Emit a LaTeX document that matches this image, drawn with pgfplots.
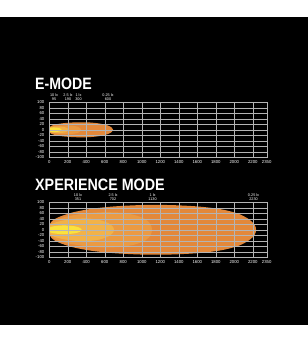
\documentclass[border=0pt]{standalone}
\usepackage{pgfplots}
\pgfplotsset{compat=1.18}
\usepackage{fontspec}
\setmainfont{Liberation Sans}
\definecolor{beamA}{HTML}{E3883A}
\definecolor{beamB}{HTML}{EB9A42}
\definecolor{beamC}{HTML}{F2B248}
\definecolor{beamD}{HTML}{FBE23C}
\definecolor{gridc}{HTML}{B4B4B4}
\tikzset{toplab/.style={white, font=\fontsize{3.8}{4.0}\selectfont, align=center, anchor=south, inner sep=0pt, yshift=1.5bp}}
\pgfplotsset{
  beamaxis/.style={
    scale only axis, width=217.4bp, height=55bp, anchor=south west,
    xmin=0, xmax=2350, ymin=-100, ymax=100,
    xtick={0,200,400,600,800,1000,1200,1400,1600,1800,2000,2200,2350},
    xticklabels={0,200,400,600,800,1000,1200,1400,1600,1800,2000,2200,2350},
    ytick={-100,-80,-60,-40,-20,0,20,40,60,80,100},
    yticklabels={-100,-80,-60,-40,-20,0,20,40,60,80,100},
    grid=major, major grid style={gridc, line width=0.3pt},
    axis line style={gridc, line width=0.35pt},
    major tick length=0pt,
    tick label style={white, font=\fontsize{4.3}{4.3}\selectfont},
    xticklabel style={yshift=0.5bp},
    yticklabel style={xshift=-1.5bp},
    axis on top, clip=false,
  },
}
\begin{document}
\begin{tikzpicture}
\fill[white] (0bp,0bp) rectangle (308bp,343bp);
\fill[black] (0bp,18bp) rectangle (308bp,326bp);
\node[white, anchor=base west, inner sep=0pt, xscale=0.86, font=\fontsize{16.5}{16.5}\selectfont\bfseries] at (35bp,253bp) {E-MODE};
\node[white, anchor=base west, inner sep=0pt, xscale=0.87, font=\fontsize{16.5}{16.5}\selectfont\bfseries] at (35bp,152bp) {XPERIENCE MODE};

\begin{axis}[beamaxis, at={(49.3bp,185.7bp)}]
\addplot[draw=none, fill=beamA, smooth] coordinates {(0,0) (3,8) (15,13) (60,19) (150,24) (280,27) (420,27) (540,23) (630,16) (675,8) (690,0) (675,-8) (630,-16) (540,-23) (420,-27) (280,-27) (150,-24) (60,-19) (15,-13) (3,-8) (0,0)} -- cycle;
\addplot[draw=none, fill=beamB, smooth] coordinates {(0,0) (3,7) (15,10) (50,13) (120,15) (200,16) (270,14) (315,10) (335,5) (342,0) (335,-5) (315,-10) (270,-14) (200,-16) (120,-15) (50,-13) (15,-10) (3,-7) (0,0)} -- cycle;
\addplot[draw=none, fill=beamC, smooth] coordinates {(0,0) (3,6) (15,9) (50,11) (110,12) (160,10) (195,6) (208,0) (195,-6) (160,-10) (110,-12) (50,-11) (15,-9) (3,-6) (0,0)} -- cycle;
\addplot[draw=none, fill=beamD, smooth] coordinates {(0,0) (3,5) (15,7.5) (45,8.5) (80,8) (110,6) (128,3) (132,0) (128,-3) (110,-6) (80,-8) (45,-8.5) (15,-7.5) (3,-5) (0,0)} -- cycle;
\node[toplab] at (axis cs:51,100) {10 lx\\95};
\node[toplab] at (axis cs:202,100) {2.5 lx\\190};
\node[toplab] at (axis cs:316,100) {1 lx\\300};
\node[toplab] at (axis cs:635,100) {0.25 lx\\600};
\end{axis}

\begin{axis}[beamaxis, at={(49.3bp,85.7bp)}]
\addplot[draw=none, fill=beamA, smooth] coordinates {(0,0) (5,18) (30,32) (100,46) (250,63) (450,76) (700,85) (1000,90) (1300,90) (1600,85) (1850,75) (2040,59) (2160,38) (2220,18) (2235,0) (2220,-18) (2160,-38) (2040,-59) (1850,-75) (1600,-85) (1300,-90) (1000,-90) (700,-85) (450,-76) (250,-63) (100,-46) (30,-32) (5,-18) (0,0)} -- cycle;
\addplot[draw=none, fill=beamB, smooth] coordinates {(0,0) (4,14) (20,25) (80,37) (200,49) (380,59) (580,64) (780,62) (930,53) (1040,38) (1095,20) (1110,0) (1095,-20) (1040,-38) (930,-53) (780,-62) (580,-64) (380,-59) (200,-49) (80,-37) (20,-25) (4,-14) (0,0)} -- cycle;
\addplot[draw=none, fill=beamC, smooth] coordinates {(0,0) (3,10) (15,18) (60,26) (150,34) (280,40) (420,41) (550,35) (640,24) (685,12) (700,0) (685,-12) (640,-24) (550,-35) (420,-41) (280,-40) (150,-34) (60,-26) (15,-18) (3,-10) (0,0)} -- cycle;
\addplot[draw=none, fill=beamD, smooth] coordinates {(0,0) (3,6) (15,10) (50,13) (120,15.5) (200,15.5) (280,12.5) (330,7) (350,0) (330,-7) (280,-12.5) (200,-15.5) (120,-15.5) (50,-13) (15,-10) (3,-6) (0,0)} -- cycle;
\node[toplab] at (axis cs:310,100) {10 lx\\351};
\node[toplab] at (axis cs:689,100) {2.5 lx\\702};
\node[toplab] at (axis cs:1116,100) {1 lx\\1130};
\node[toplab] at (axis cs:2208,100) {0.25 lx\\2230};
\end{axis}
\end{tikzpicture}
\end{document}
